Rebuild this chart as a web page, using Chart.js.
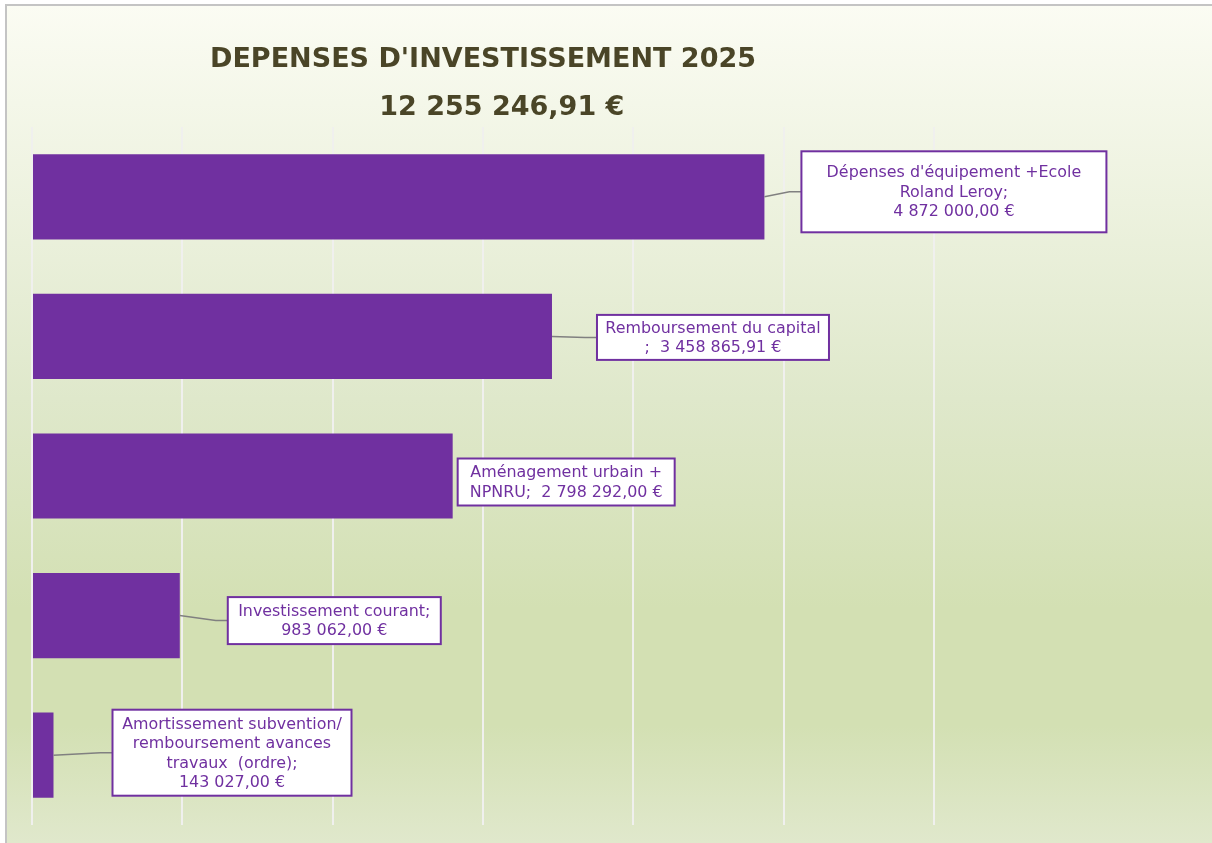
<!DOCTYPE html>
<html>
<head>
  <title>Dépenses d'investissement 2025</title>
  <script src="https://cdn.jsdelivr.net/npm/chart.js"></script>
  <style>
    body { margin: 0; background: #ffffff; }
    canvas { display: block; }
  </style>
</head>
<body>
  <canvas id="invChart" width="1212" height="843"></canvas>

  <script>
    const categories = [
      "Dépenses d'équipement +Ecole Roland Leroy",
      "Remboursement du capital",
      "Aménagement urbain + NPNRU",
      "Investissement courant",
      "Amortissement subvention/ remboursement avances travaux  (ordre)"
    ];
    const values = [4872000, 3458865.91, 2798292, 983062, 143027];
    // how the callout text wraps (value goes on the last line if it ends with spaces)
    const nameLines = [
      ["Dépenses d'équipement +Ecole", "Roland Leroy;"],
      ["Remboursement du capital", ";  "],
      ["Aménagement urbain +", "NPNRU;  "],
      ["Investissement courant;"],
      ["Amortissement subvention/", "remboursement avances", "travaux  (ordre);"]
    ];
    const xTicks = [0, 1000000, 2000000, 3000000, 4000000, 5000000, 6000000];
    const titleText = "DEPENSES D'INVESTISSEMENT 2025";

    const FONT = 'Verdana, DejaVu Sans, sans-serif';

    function fmt(v) {
      const parts = v.toFixed(2).split('.');
      const int = parts[0].replace(/\B(?=(\d{3})+(?!\d))/g, ' ');
      return int + ',' + parts[1] + ' €';
    }

    const total = values.reduce((a, b) => a + b, 0);

    const calloutLines = nameLines.map((lines, i) => {
      const out = lines.slice();
      const last = out[out.length - 1];
      if (/\s$/.test(last)) out[out.length - 1] = last + fmt(values[i]);
      else out.push(fmt(values[i]));
      return out;
    });

    // callout box placement, relative to the bar end
    const boxStyle = {
      dx: [37, 45, 5, 48, 59],
      dy: [-5, 1, 6, 5, -2.5],
      w: [305, 232, 217, 213, 239],
      h: [81, 45, 47, 47, 86]
    };

    const bgPlugin = {
      id: 'bg',
      beforeDraw(chart) {
        const ctx = chart.ctx;
        const W = chart.width, H = chart.height;
        ctx.save();
        ctx.fillStyle = '#ffffff';
        ctx.fillRect(0, 0, W, H);
        const g = ctx.createLinearGradient(0, 5, 0, H);
        g.addColorStop(0, '#fbfcf3');
        g.addColorStop(0.47, '#dfe8cb');
        g.addColorStop(0.72, '#d3e0b3');
        g.addColorStop(0.86, '#d3e0b3');
        g.addColorStop(1, '#e0e8cc');
        ctx.fillStyle = g;
        ctx.fillRect(6, 5, W - 6, H - 5);
        ctx.strokeStyle = '#c4c4c4';
        ctx.lineWidth = 2;
        ctx.beginPath();
        ctx.moveTo(6, H);
        ctx.lineTo(6, 5);
        ctx.lineTo(W, 5);
        ctx.stroke();
        ctx.restore();
      }
    };

    const calloutPlugin = {
      id: 'callouts',
      afterDatasetsDraw(chart) {
        const ctx = chart.ctx;
        const meta = chart.getDatasetMeta(0);
        ctx.save();
        ctx.font = '15.9px ' + FONT;
        ctx.textAlign = 'center';
        ctx.textBaseline = 'middle';
        meta.data.forEach((bar, i) => {
          const x0 = bar.x, y0 = bar.y;
          const left = x0 + boxStyle.dx[i];
          const cy = y0 + boxStyle.dy[i];
          const w = boxStyle.w[i], h = boxStyle.h[i];
          // leader line
          if (boxStyle.dx[i] > 10) {
            ctx.strokeStyle = '#808080';
            ctx.lineWidth = 1.5;
            ctx.beginPath();
            ctx.moveTo(x0, y0);
            ctx.lineTo(left - 12, cy);
            ctx.lineTo(left, cy);
            ctx.stroke();
          }
          // box
          ctx.fillStyle = '#ffffff';
          ctx.fillRect(left, cy - h / 2, w, h);
          ctx.strokeStyle = '#7030a0';
          ctx.lineWidth = 2;
          ctx.strokeRect(left, cy - h / 2, w, h);
          // text
          const lines = calloutLines[i];
          const lh = 19.5;
          ctx.fillStyle = '#7030a0';
          lines.forEach((t, k) => {
            ctx.fillText(t, left + w / 2, cy + 1 + (k - (lines.length - 1) / 2) * lh);
          });
        });
        ctx.restore();
      }
    };

    new Chart(document.getElementById('invChart').getContext('2d'), {
      type: 'bar',
      data: {
        labels: categories,
        datasets: [{
          data: values,
          backgroundColor: '#7030a0',
          borderWidth: 0,
          barPercentage: 0.61,
          categoryPercentage: 1
        }]
      },
      options: {
        indexAxis: 'y',
        responsive: false,
        animation: false,
        devicePixelRatio: 1,
        layout: { padding: { left: 32, right: 278, top: 0, bottom: 18 } },
        plugins: {
          legend: { display: false },
          tooltip: { enabled: false },
          title: {
            display: true,
            text: titleText,
            color: '#4a4527',
            font: { family: FONT, size: 27, weight: 'bold' },
            padding: { top: 43.5, bottom: 0 }
          },
          subtitle: {
            display: true,
            text: '    ' + fmt(total),
            color: '#4a4527',
            font: { family: FONT, size: 27, weight: 'bold' },
            padding: { top: 15.6, bottom: 3.1 }
          }
        },
        scales: {
          x: {
            min: xTicks[0],
            max: xTicks[xTicks.length - 1],
            afterBuildTicks(axis) { axis.ticks = xTicks.map(v => ({ value: v })); },
            ticks: { display: false },
            grid: { color: '#f0f0ee', lineWidth: 2, drawTicks: false },
            border: { display: false }
          },
          y: {
            display: false
          }
        }
      },
      plugins: [bgPlugin, calloutPlugin]
    });
  </script>
</body>
</html>
